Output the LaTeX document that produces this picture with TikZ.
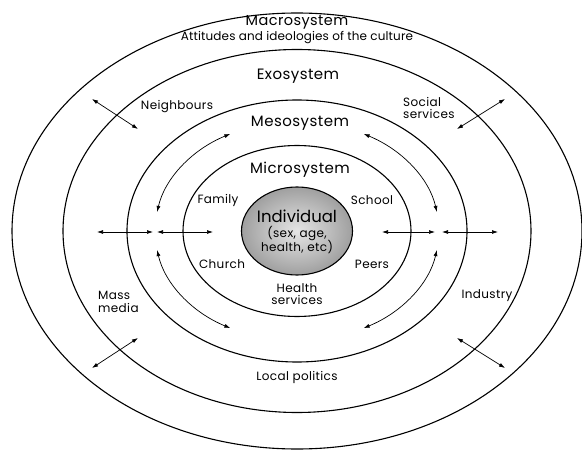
\documentclass[tikz,border=0pt]{standalone}
\usepackage{fontspec}
\setmainfont{Poppins}
\usetikzlibrary{arrows.meta,shapes.geometric}
\begin{document}
\begin{tikzpicture}[x=1pt,y=-1pt,
  ring/.style={ellipse,draw=black,line width=1.1pt,inner sep=0pt},
  dbl/.style={{Latex[length=6pt,width=4pt]}-{Latex[length=6pt,width=4pt]},line width=0.7pt},
  sys/.style={font=\fontsize{15}{16}\selectfont\addfontfeature{LetterSpace=3},inner sep=0pt},
  lbl/.style={font=\fontsize{12}{12.5}\selectfont\addfontfeature{LetterSpace=3},align=center,inner sep=0pt},
]
\useasboundingbox (0,0) rectangle (582,452);
\coordinate (c) at (297,231);
\node[ring,minimum width=570pt,minimum height=436pt] (macro) at (c) {};
\node[ring,minimum width=468pt,minimum height=363pt] (exo) at (c) {};
\node[ring,minimum width=340pt,minimum height=262pt] (meso) at (c) {};
\node[ring,minimum width=228pt,minimum height=171pt] (micro) at (c) {};
\node[ring,minimum width=111pt,minimum height=88pt,inner color=gray!20,outer color=gray!75] (indiv) at (c) {};
\node[inner sep=0pt,font=\fontsize{16.5}{17}\selectfont] (ind1) at (297,216) {Individual};
\node[lbl] (ind2) at (297,234) {(sex, age,};
\node[lbl] (ind3) at (297,247) {health, etc)};
% system labels
\node[sys,font=\fontsize{14.5}{16}\selectfont\addfontfeature{LetterSpace=3}] (lmacro) at (297,22) {Macrosystem};
\node[lbl,font=\fontsize{12}{12}\selectfont\addfontfeature{LetterSpace=1}] (latt) at (297,38) {Attitudes and ideologies of the culture};
\node[sys] (lexo) at (298,76) {Exosystem};
\node[sys] (lmeso) at (300,123) {Mesosystem};
\node[sys] (lmicro) at (300,170) {Microsystem};
% settings
\node[lbl] (neigh) at (177,107) {Neighbours};
\node[lbl,align=left,anchor=west] (social) at (403,108) {Social\\services};
\node[lbl] (family) at (218,200) {Family};
\node[lbl] (school) at (372,200) {School};
\node[lbl] (church) at (222,264) {Church};
\node[lbl] (peers) at (372,264) {Peers};
\node[lbl] (health) at (297,294) {Health\\services};
\node[lbl,align=left,anchor=west] (mass) at (98,302) {Mass\\media};
\node[lbl] (industry) at (487,296) {Industry};
\node[lbl] (local) at (297,377) {Local politics};
% horizontal arrows
\coordinate (h1) at (97,232); \coordinate (h2) at (153,232);
\coordinate (h3) at (157,232); \coordinate (h4) at (213,232);
\coordinate (h5) at (382,232); \coordinate (h6) at (435,232);
\coordinate (h7) at (442,232); \coordinate (h8) at (498,232);
\draw[dbl] (h1) -- (h2);
\draw[dbl] (h3) -- (h4);
\draw[dbl] (h5) -- (h6);
\draw[dbl] (h7) -- (h8);
% diagonal arrows
\coordinate (d1) at (92,99); \coordinate (d2) at (138,129);
\coordinate (d3) at (457,129); \coordinate (d4) at (505,99);
\coordinate (d5) at (92,368); \coordinate (d6) at (138,338);
\coordinate (d7) at (457,338); \coordinate (d8) at (505,368);
\draw[dbl] (d1) -- (d2);
\draw[dbl] (d3) -- (d4);
\draw[dbl] (d5) -- (d6);
\draw[dbl] (d7) -- (d8);
% curved arrows in mesosystem ring
\coordinate (a1) at ([shift={(118:142pt and 110pt)}]c);
\coordinate (a2) at ([shift={(10:142pt and 110pt)}]c);
\coordinate (a3) at ([shift={(190:142pt and 110pt)}]c);
\coordinate (a4) at ([shift={(298:142pt and 110pt)}]c);
\draw[dbl] (a1) arc[start angle=118,end angle=170,x radius=142pt,y radius=110pt];
\draw[dbl] (a2) arc[start angle=10,end angle=62,x radius=142pt,y radius=110pt];
\draw[dbl] (a3) arc[start angle=190,end angle=242,x radius=142pt,y radius=110pt];
\draw[dbl] (a4) arc[start angle=298,end angle=350,x radius=142pt,y radius=110pt];
\end{tikzpicture}
\end{document}
